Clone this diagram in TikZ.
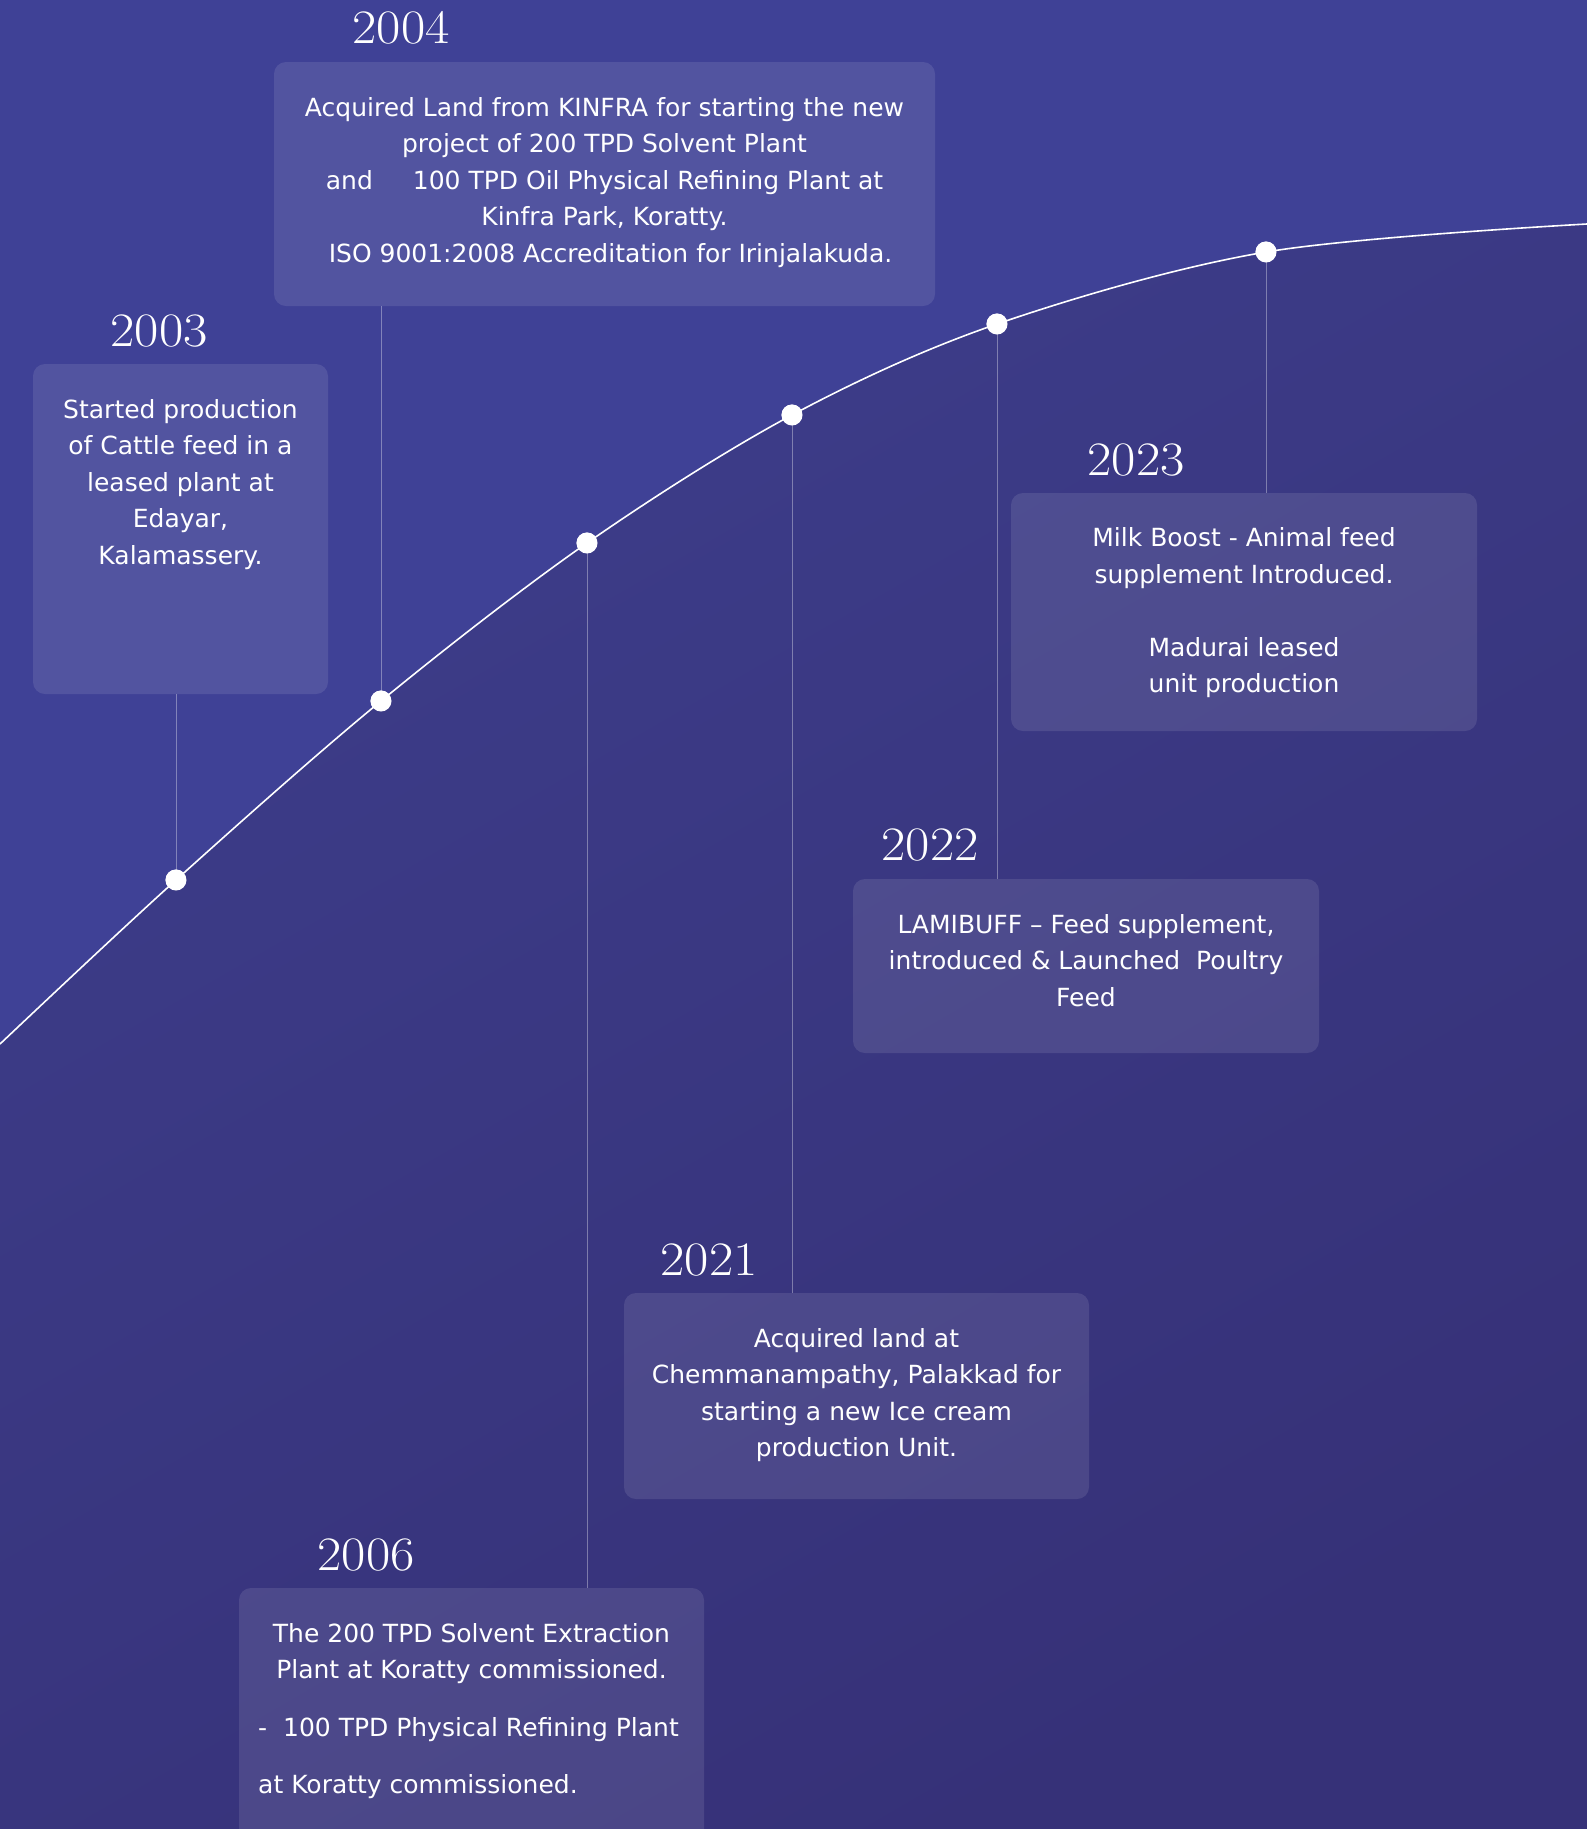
\documentclass[tikz,border=0pt]{standalone}
\usepackage{fontspec}
\usepackage{graphicx}
\newfontfamily\bodyfont{DejaVu Sans}
\definecolor{bgtop}{RGB}{63,65,150}
\definecolor{bglowA}{RGB}{61,61,138}
\definecolor{bglowB}{RGB}{54,49,120}
\begin{document}
\begin{tikzpicture}[x=1pt,y=-1pt,
  box/.style={draw=none, fill=white, fill opacity=0.1, rounded corners=12pt, inner sep=0pt},
  txt/.style={text=white, inner sep=0pt, font=\bodyfont\fontsize{25}{36.5}\selectfont, align=center, anchor=north},
  yearlbl/.style={text=white, inner sep=0pt, font=\fontsize{48}{48}\selectfont},
  tdot/.style={circle, fill=white, minimum size=21pt, inner sep=0pt},
  conn/.style={draw=white, draw opacity=0.35, line width=1pt},
  mainline/.style={draw=white, line width=1.6pt}]
\useasboundingbox (0,0) rectangle (1587,1829);
\clip (0,0) rectangle (1587,1829);
\fill[bgtop] (0,0) rectangle (1587,1829);

% timeline points
\coordinate (cs) at (0,1044);
\coordinate (ce) at (1587,224);
\node[tdot] (d03) at (176,880) {};
\node[tdot] (d04) at (381,701) {};
\node[tdot] (d06) at (587,543) {};
\node[tdot] (d21) at (792,415) {};
\node[tdot] (d22) at (997,324) {};
\node[tdot] (d23) at (1266,252) {};

% darker region below the curve
\shade[top color=bglowA, bottom color=bglowB, shading angle=30]
  plot[smooth, tension=0.55] coordinates {(cs) (d03.center) (d04.center) (d06.center) (d21.center) (d22.center) (d23.center) (ce)}
  -- (1587,1829) -- (0,1829) -- cycle;

% boxes
\node[box, minimum width=295pt, minimum height=330pt] (b03) at (180.5,529) {};
\node[box, minimum width=661pt, minimum height=244pt] (b04) at (604.5,184) {};
\node[box, minimum width=465pt, minimum height=272pt] (b06) at (471.5,1724) {};
\node[box, minimum width=465pt, minimum height=206pt] (b21) at (856.5,1396) {};
\node[box, minimum width=466pt, minimum height=174pt] (b22) at (1086,966) {};
\node[box, minimum width=466pt, minimum height=238pt] (b23) at (1244,612) {};

% connectors
\draw[conn] (b03.south -| d03) -- (d03.center);
\draw[conn] (b04.south -| d04) -- (d04.center);
\draw[conn] (d06.center) -- (b06.north -| d06);
\draw[conn] (d21.center) -- (b21.north -| d21);
\draw[conn] (d22.center) -- (b22.north -| d22);
\draw[conn] (d23.center) -- (b23.north -| d23);

% curve
\draw[mainline] plot[smooth, tension=0.55] coordinates {(cs) (d03.center) (d04.center) (d06.center) (d21.center) (d22.center) (d23.center) (ce)};

% dots on top
\foreach \d/\p in {e03/d03,e04/d04,e06/d06,e21/d21,e22/d22,e23/d23}
  \node[tdot] (\d) at (\p) {};

% years
\node[yearlbl] (y03) at (159,331) {\scalebox{1.1}[1]{2003}};
\node[yearlbl] (y04) at (401,27.5) {\scalebox{1.1}[1]{2004}};
\node[yearlbl] (y06) at (366,1555) {\scalebox{1.1}[1]{2006}};
\node[yearlbl] (y21) at (709,1260) {\scalebox{1.1}[1]{2021}};
\node[yearlbl] (y22) at (930,845) {\scalebox{1.1}[1]{2022}};
\node[yearlbl] (y23) at (1136,460) {\scalebox{1.1}[1]{2023}};

% texts
\node[txt] (t03) at (180.5,399) {Started production\\of Cattle feed in a\\leased plant at\\Edayar,\\Kalamassery.};
\node[txt] (t04) at (604.5,97) {Acquired Land from KINFRA for starting the new\\project of 200 TPD Solvent Plant\\and\hspace{40pt}100 TPD Oil Physical Refining Plant at\\Kinfra Park, Koratty.\\\hspace{12pt}ISO 9001:2008 Accreditation for Irinjalakuda.};
\node[txt] (t23) at (1244,527.5) {Milk Boost - Animal feed\\supplement Introduced.\\[36.7pt]Madurai leased\\unit production};
\node[txt] (t22) at (1086,914) {LAMIBUFF – Feed supplement,\\introduced \& Launched\ \ Poultry\\Feed};
\node[txt] (t21) at (856.5,1328) {Acquired land at\\Chemmanampathy, Palakkad for\\starting a new Ice cream\\production Unit.};
\node[txt] (t06a) at (471.5,1623) {The 200 TPD Solvent Extraction\\Plant at Koratty commissioned.};
\node[txt, align=left, anchor=north west, font=\bodyfont\fontsize{25}{57}\selectfont] (t06b) at (258,1717) {-\ \ 100 TPD Physical Refining Plant\\at Koratty commissioned.};
\end{tikzpicture}
\end{document}
